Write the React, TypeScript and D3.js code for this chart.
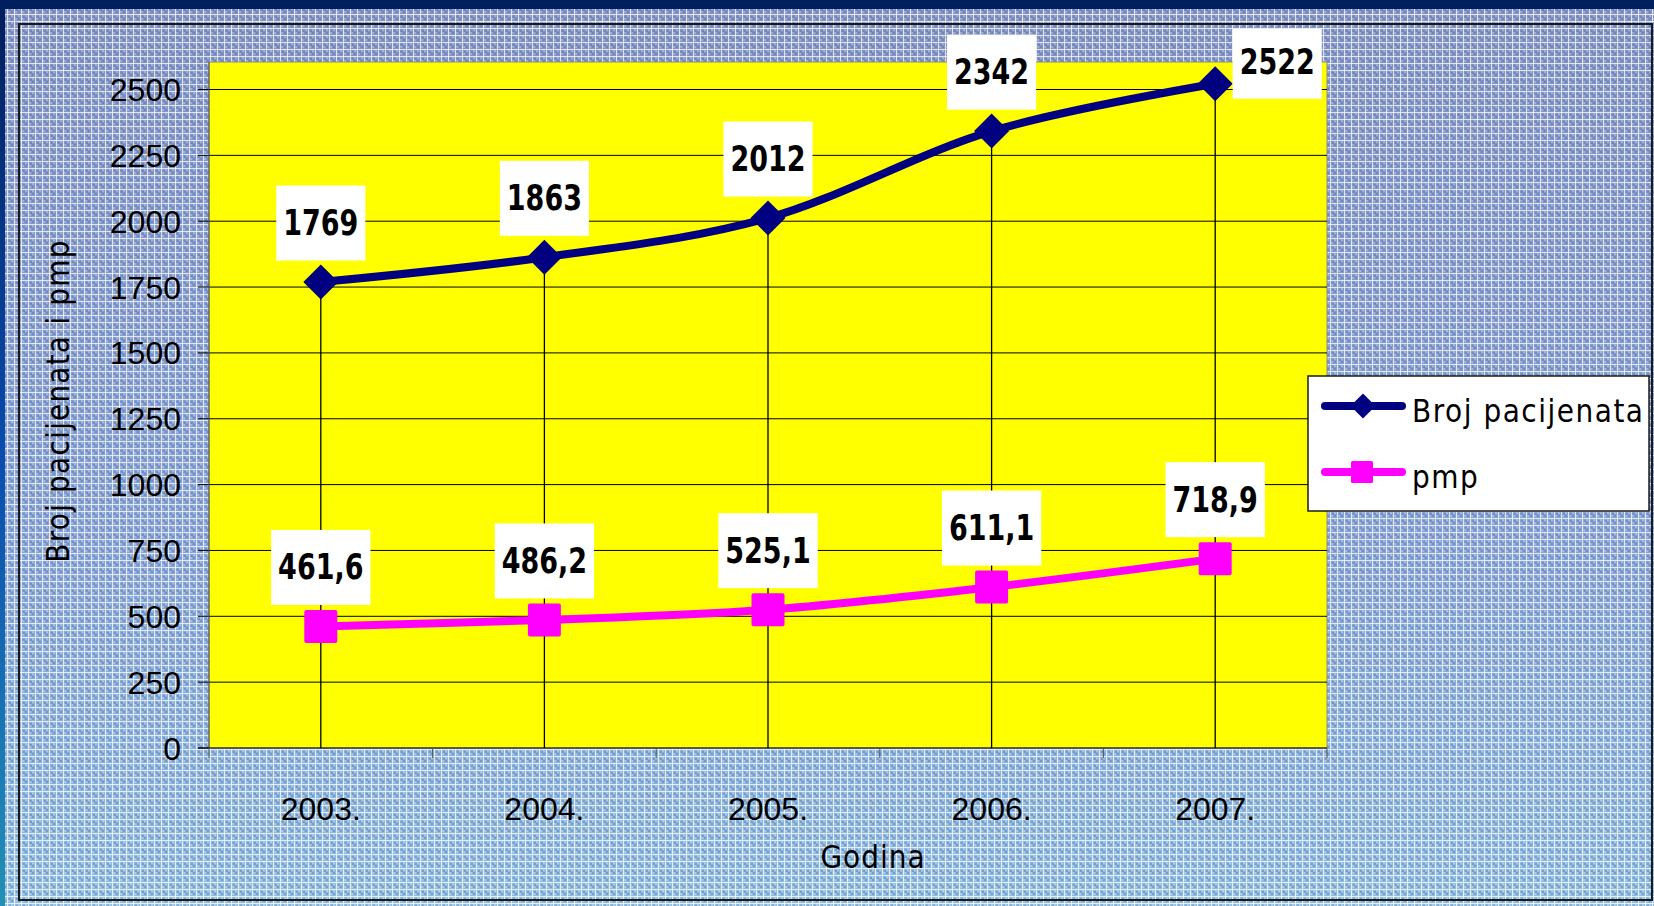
import { useRef, useEffect } from 'react'
import * as d3 from 'd3'

// chart data
const years = ['2003.', '2004.', '2005.', '2006.', '2007.']
const patients = [1769, 1863, 2012, 2342, 2522]
const pmp = [461.6, 486.2, 525.1, 611.1, 718.9]
const yTicks = [0, 250, 500, 750, 1000, 1250, 1500, 1750, 2000, 2250, 2500]
const seriesNames = ['Broj pacijenata', 'pmp']
const yTitle = 'Broj pacijenata i pmp'
const xTitle = 'Godina'

const W = 1654
const H = 906
const NAVY = '#000080'
const PINK = '#FF00FF'
const COMIC = '"DejaVu Sans", "Noto Sans", sans-serif'
const ARIAL = '"Liberation Sans", Arial, sans-serif'

export default function App() {
  const svgRef = useRef<SVGSVGElement>(null)

  useEffect(() => {
    if (!svgRef.current) return
    const svg = d3.select(svgRef.current)
    svg.selectAll('*').remove()

    const plot = { left: 209, right: 1327, top: 62, bottom: 748 }

    const x = d3.scaleBand<string>().domain(years).range([plot.left, plot.right])
    const cx = (d: string) => (x(d) as number) + x.bandwidth() / 2
    const y = d3.scaleLinear().domain([0, 2500]).range([plot.bottom, 89.5])

    // background: slide texture
    const defs = svg.append('defs')
    const bg = defs.append('linearGradient').attr('id', 'bgGrad').attr('x1', 0).attr('y1', 0).attr('x2', 0).attr('y2', 1)
    bg.append('stop').attr('offset', '0%').attr('stop-color', '#8192c4')
    bg.append('stop').attr('offset', '60%').attr('stop-color', '#86a4d5')
    bg.append('stop').attr('offset', '100%').attr('stop-color', '#8ebee0')

    const edge = defs.append('linearGradient').attr('id', 'edgeGrad').attr('x1', 0).attr('y1', 0).attr('x2', 0).attr('y2', 1)
    edge.append('stop').attr('offset', '0%').attr('stop-color', '#001f5e')
    edge.append('stop').attr('offset', '50%').attr('stop-color', '#0a4cae')
    edge.append('stop').attr('offset', '100%').attr('stop-color', '#2290b6')

    const pat = defs.append('pattern').attr('id', 'tex').attr('width', 7).attr('height', 7).attr('patternUnits', 'userSpaceOnUse')
    pat.append('rect').attr('x', 2).attr('y', 2).attr('width', 2).attr('height', 2).attr('fill', '#5f76b4').attr('opacity', 0.45)
    pat.append('rect').attr('x', 4).attr('y', 4).attr('width', 2).attr('height', 2).attr('fill', '#5f76b4').attr('opacity', 0.45)
    pat.append('rect').attr('x', 4).attr('y', 1).attr('width', 2).attr('height', 2).attr('fill', '#ffffff').attr('opacity', 0.25)
    pat.append('rect').attr('x', 1).attr('y', 4).attr('width', 2).attr('height', 2).attr('fill', '#ffffff').attr('opacity', 0.25)
    pat.append('rect').attr('x', 0).attr('y', 0).attr('width', 7).attr('height', 1).attr('fill', '#ffffff').attr('opacity', 0.75)
    pat.append('rect').attr('x', 0).attr('y', 0).attr('width', 1).attr('height', 7).attr('fill', '#ffffff').attr('opacity', 0.75)

    svg.append('rect').attr('width', W).attr('height', H).attr('fill', '#001f5e')
    svg.append('rect').attr('x', 0).attr('y', 9).attr('width', 5).attr('height', H - 9).attr('fill', 'url(#edgeGrad)')
    svg.append('rect').attr('x', 5).attr('y', 9).attr('width', W - 5).attr('height', H - 9).attr('fill', 'url(#bgGrad)')
    svg.append('rect').attr('x', 5).attr('y', 9).attr('width', W - 5).attr('height', H - 9).attr('fill', 'url(#tex)')

    // chart area border
    svg.append('rect')
      .attr('x', 19).attr('y', 24).attr('width', 1633).attr('height', 876)
      .attr('fill', 'none').attr('stroke', '#1a1a1a').attr('stroke-width', 2)

    // plot area
    svg.append('rect')
      .attr('x', plot.left).attr('y', plot.top)
      .attr('width', plot.right - plot.left).attr('height', plot.bottom - plot.top)
      .attr('fill', '#FFFF00').attr('stroke', '#8a8a8a').attr('stroke-width', 1)

    const g = svg.append('g')

    // gridlines
    g.selectAll('.grid')
      .data(yTicks.filter((t) => t > 0))
      .join('line')
      .attr('x1', plot.left).attr('x2', plot.right)
      .attr('y1', (d) => y(d)).attr('y2', (d) => y(d))
      .attr('stroke', '#000').attr('stroke-width', 1)

    // y ticks + labels
    g.selectAll('.ytick')
      .data(yTicks)
      .join('line')
      .attr('x1', plot.left - 11).attr('x2', plot.left)
      .attr('y1', (d) => y(d)).attr('y2', (d) => y(d))
      .attr('stroke', '#000').attr('stroke-width', 1)

    g.selectAll('.ylab')
      .data(yTicks)
      .join('text')
      .attr('x', 181).attr('y', (d) => y(d) + 11.5)
      .attr('text-anchor', 'end')
      .attr('font-family', ARIAL).attr('font-size', 32).attr('fill', '#000')
      .text((d) => d)

    // axes lines
    g.append('line').attr('x1', plot.left).attr('x2', plot.left).attr('y1', plot.top).attr('y2', plot.bottom).attr('stroke', '#555')
    g.append('line').attr('x1', plot.left - 11).attr('x2', plot.right).attr('y1', plot.bottom).attr('y2', plot.bottom).attr('stroke', '#000').attr('stroke-width', 1.2)

    // x ticks at band edges
    const edges = years.map((d) => x(d) as number).concat([plot.right])
    g.selectAll('.xtick')
      .data(edges)
      .join('line')
      .attr('x1', (d) => d).attr('x2', (d) => d)
      .attr('y1', plot.bottom).attr('y2', plot.bottom + 10)
      .attr('stroke', '#555').attr('stroke-width', 1)

    g.selectAll('.xlab')
      .data(years)
      .join('text')
      .attr('x', (d) => cx(d)).attr('y', 820)
      .attr('text-anchor', 'middle')
      .attr('font-family', ARIAL).attr('font-size', 32).attr('fill', '#000')
      .text((d) => d)

    // drop lines
    g.selectAll('.drop')
      .data(years)
      .join('line')
      .attr('x1', (d) => cx(d)).attr('x2', (d) => cx(d))
      .attr('y1', (_d, i) => y(Math.max(patients[i], pmp[i])))
      .attr('y2', plot.bottom)
      .attr('stroke', '#000').attr('stroke-width', 1.3)

    // lines
    const line = d3
      .line<number>()
      .x((_d, i) => cx(years[i]))
      .y((d) => y(d))
      .curve(d3.curveCatmullRom.alpha(0))

    g.append('path').datum(patients).attr('d', line).attr('fill', 'none').attr('stroke', NAVY).attr('stroke-width', 8).attr('stroke-linejoin', 'round')
    g.append('path').datum(pmp).attr('d', line).attr('fill', 'none').attr('stroke', PINK).attr('stroke-width', 8).attr('stroke-linejoin', 'round')

    // markers
    const dia = (r: number) => `M0,${-r}L${r},0L0,${r}L${-r},0Z`
    g.selectAll('.mk1')
      .data(patients)
      .join('path')
      .attr('transform', (d, i) => `translate(${cx(years[i])},${y(d)})`)
      .attr('d', dia(17.5))
      .attr('fill', NAVY)

    g.selectAll('.mk2')
      .data(pmp)
      .join('rect')
      .attr('x', (_d, i) => cx(years[i]) - 16.5)
      .attr('y', (d) => y(d) - 16.5)
      .attr('width', 33).attr('height', 33).attr('rx', 2)
      .attr('fill', PINK)

    // data labels
    const fmtP = d3.format('d')
    const fmtPmp = (v: number) => v.toFixed(1).replace('.', ',')
    const labels = [
      ...patients.map((v, i) => ({ text: fmtP(v), px: cx(years[i]), py: y(v), last: i === patients.length - 1 })),
      ...pmp.map((v, i) => ({ text: fmtPmp(v), px: cx(years[i]), py: y(v), last: false })),
    ]
    labels.forEach((l) => {
      // the top-right label doesn't fit above, so it sits to the right
      const bx = l.last ? l.px + 62 : l.px
      const by = l.last ? l.py - 22 : l.py - 59
      const lg = g.append('g').attr('transform', `translate(${bx},${by})`)
      const rect = lg.append('rect').attr('fill', '#fff')
      const t = lg.append('text')
        .attr('transform', 'translate(0,12) scale(1,1.33)')
        .attr('text-anchor', 'middle')
        .attr('font-family', COMIC).attr('font-weight', 'bold').attr('font-size', 27)
        .attr('fill', '#000')
        .text(l.text)
      const w = (t.node() as SVGTextElement).getBBox().width + 14
      rect.attr('x', -w / 2).attr('y', l.last ? -33 : -37.5).attr('width', w).attr('height', l.last ? 70 : 75)
    })

    // axis titles
    svg.append('text')
      .attr('transform', 'translate(69,401) rotate(-90) scale(1,1.15)')
      .attr('text-anchor', 'middle')
      .attr('font-family', COMIC).attr('font-size', 28).attr('letter-spacing', 1.2)
      .attr('fill', '#000')
      .text(yTitle)

    svg.append('text')
      .attr('transform', 'translate(873,868) scale(1,1.15)')
      .attr('text-anchor', 'middle')
      .attr('font-family', COMIC).attr('font-size', 28).attr('letter-spacing', 1)
      .attr('fill', '#000')
      .text(xTitle)

    // legend
    const leg = svg.append('g')
    leg.append('rect')
      .attr('x', 1308).attr('y', 376).attr('width', 341).attr('height', 135)
      .attr('fill', '#fff').attr('stroke', '#1a1a1a').attr('stroke-width', 1.5)

    const legY = [406, 472]
    const legColors = [NAVY, PINK]
    seriesNames.forEach((name, i) => {
      leg.append('line')
        .attr('x1', 1325).attr('x2', 1402).attr('y1', legY[i]).attr('y2', legY[i])
        .attr('stroke', legColors[i]).attr('stroke-width', 8).attr('stroke-linecap', 'round')
      if (i === 0) {
        leg.append('path').attr('transform', `translate(1363,${legY[i]})`).attr('d', dia(12.5)).attr('fill', NAVY)
      } else {
        leg.append('rect').attr('x', 1351).attr('y', legY[i] - 11).attr('width', 22).attr('height', 22).attr('rx', 1.5).attr('fill', PINK)
      }
      leg.append('text')
        .attr('transform', `translate(1412,${legY[i] + 16}) scale(1,1.12)`)
        .attr('font-family', COMIC).attr('font-size', 28).attr('letter-spacing', 1.5)
        .attr('fill', '#000')
        .text(name)
    })
  }, [])

  return <svg ref={svgRef} width={W} height={H} style={{ position: 'absolute', left: 0, top: 0, display: 'block' }} />
}
